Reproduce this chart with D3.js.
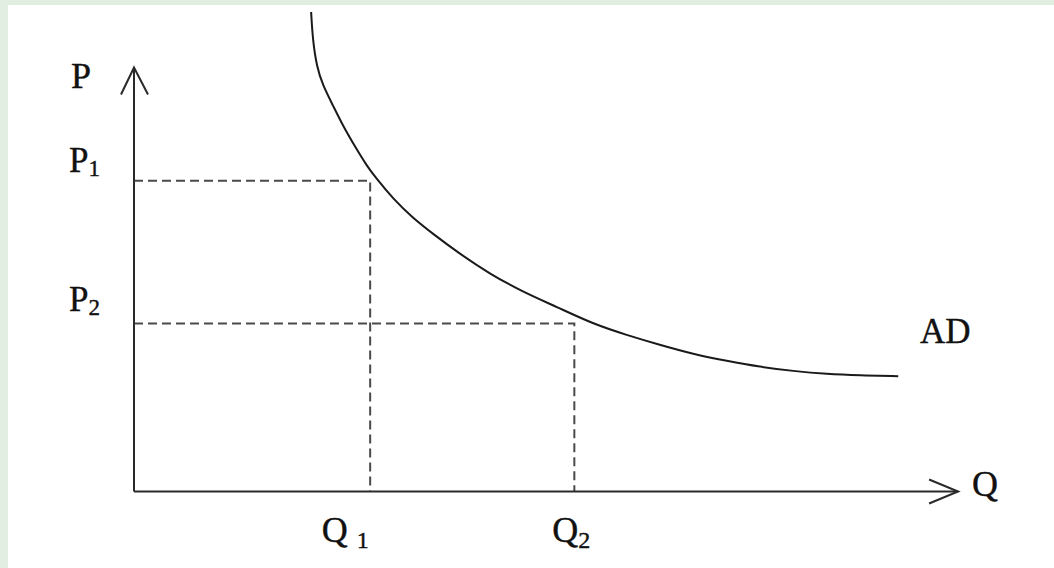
<!DOCTYPE html>
<html>
<head>
<meta charset="utf-8">
<script src="https://cdn.jsdelivr.net/npm/d3@7"></script>
<style>
  html, body { margin: 0; padding: 0; background: #e3eee3; }
  svg { display: block; }
  text { font-family: "Liberation Serif", "Times New Roman", serif; fill: #111; stroke: #111; stroke-width: 0.4; }
</style>
</head>
<body>
<script>
// data (units: 0..100 on both axes)
var curveQ = [21.6, 21.8, 22.3, 23.0, 24.3, 25.5, 27.0, 28.4, 29.4, 31.6, 34.0, 36.5, 39.4,
              43.4, 47.4, 51.6, 56.0, 60.1, 64.1, 68.2, 72.3, 76.3, 80.4, 84.5, 88.5, 93.2];
var curveP = [113.1, 106.5, 100.1, 95.9, 90.9, 86.2, 81.2, 76.8, 74.2, 69.0, 64.5, 60.7, 56.5,
              51.3, 47.1, 43.5, 39.5, 36.9, 34.6, 32.4, 30.8, 29.4, 28.4, 27.7, 27.4, 27.2];
var priceLevels = [73.3, 39.6];
var priceSubs = ["1", "2"];
var qtyLevels = [28.8, 53.7];
var qtyMain = ["Q ", "Q"];
var qtySubs = ["1", "2"];

var width = 1054;
var height = 568;

var x = d3.scaleLinear().domain([0, 100]).range([134, 954]);
var y = d3.scaleLinear().domain([0, 100]).range([491.5, 67.5]);

var svg = d3.select("body")
    .append("svg")
    .attr("width", width)
    .attr("height", height);

// white page over the green border
svg.append("rect")
    .attr("x", 8).attr("y", 5)
    .attr("width", width - 8).attr("height", height - 5)
    .attr("fill", "#fff");

// dashed guide lines
var guides = svg.append("g")
    .attr("stroke", "#4a4a4a")
    .attr("stroke-width", 2)
    .attr("stroke-dasharray", "9,5")
    .attr("fill", "none");

priceLevels.forEach(function(p, i) {
  var q = qtyLevels[i];
  guides.append("path")
      .attr("d", "M" + x(0) + "," + y(p) + "H" + x(q) + "V" + y(0));
});

// axes with arrow heads
var axes = svg.append("g")
    .attr("stroke", "#2a2a2a")
    .attr("stroke-width", 2)
    .attr("fill", "none");

axes.append("line")
    .attr("x1", x(0)).attr("y1", y(0))
    .attr("x2", x(0)).attr("y2", y(100));
axes.append("path")
    .attr("d", "M" + (x(0) - 13) + "," + (y(100) + 27) + "L" + x(0) + "," + y(100) +
               "L" + (x(0) + 14) + "," + (y(100) + 27));

axes.append("line")
    .attr("x1", x(0)).attr("y1", y(0))
    .attr("x2", x(100.5)).attr("y2", y(0));
axes.append("path")
    .attr("d", "M" + (x(100.5) - 29) + "," + (y(0) - 12) + "L" + x(100.5) + "," + y(0) +
               "L" + (x(100.5) - 29) + "," + (y(0) + 12));

// AD curve
var line = d3.line()
    .x(function(d) { return x(d[0]); })
    .y(function(d) { return y(d[1]); })
    .curve(d3.curveBasis);

svg.append("path")
    .datum(d3.zip(curveQ, curveP))
    .attr("d", line)
    .attr("fill", "none")
    .attr("stroke", "#1a1a1a")
    .attr("stroke-width", 2);

// labels
svg.append("text")
    .attr("x", 71).attr("y", 88)
    .attr("font-size", 36)
    .text("P");

svg.append("text")
    .attr("x", x(100.5) + 14).attr("y", y(0) + 4)
    .attr("font-size", 36)
    .text("Q");

svg.append("text")
    .attr("x", 920).attr("y", 343)
    .attr("font-size", 35)
    .text("AD");

priceLevels.forEach(function(p, i) {
  var t = svg.append("text")
      .attr("x", 69).attr("y", y(p) - (i === 0 ? 9 : 13))
      .attr("font-size", 35)
      .text("P");
  t.append("tspan")
      .attr("dy", 4)
      .attr("font-size", 23)
      .text(priceSubs[i]);
});

qtyLevels.forEach(function(q, i) {
  var t = svg.append("text")
      .attr("x", i === 0 ? x(q) - 25 : x(q) - 3)
      .attr("y", 542)
      .attr("text-anchor", "middle")
      .attr("font-size", 36)
      .text(qtyMain[i]);
  t.append("tspan")
      .attr("dy", 6)
      .attr("font-size", 24)
      .text(qtySubs[i]);
});
</script>
</body>
</html>
